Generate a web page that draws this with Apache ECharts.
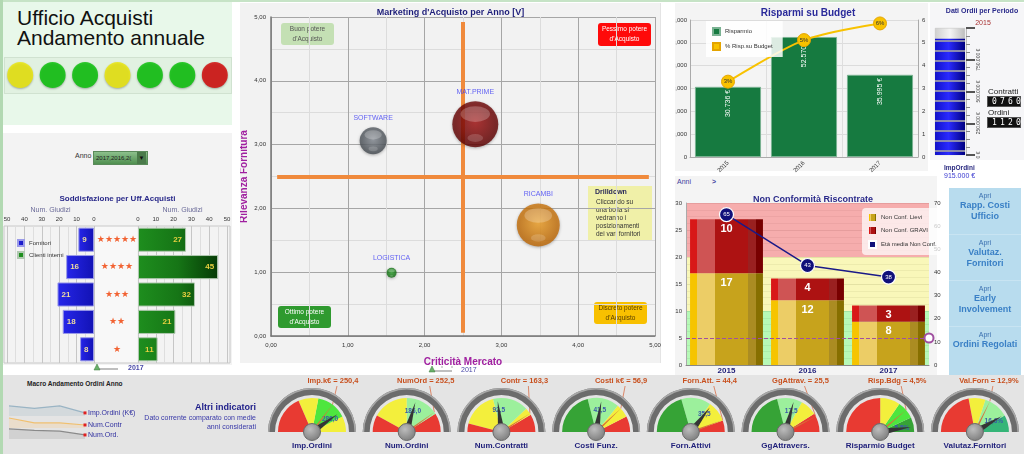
<!DOCTYPE html>
<html><head><meta charset="utf-8">
<script src="https://cdn.jsdelivr.net/npm/echarts@6/dist/echarts.min.js"></script>
<style>
html,body{margin:0;padding:0;}
body{width:1024px;height:454px;overflow:hidden;position:relative;background:#fff;font-family:'Liberation Sans',Arial,sans-serif;}
.a{position:absolute;}
.t{position:absolute;white-space:nowrap;}
.cnt{position:absolute;height:9px;width:32px;background:#111;border:1px solid #555;color:#fff;font-size:8px;line-height:9px;letter-spacing:3.2px;text-indent:4px;font-family:'DejaVu Sans Mono',monospace;}
</style></head><body>
<div class="a" style="left:0;top:0;width:1024px;height:2px;background:#c6e3c6"></div>
<div class="a" style="left:0;top:0;width:3px;height:454px;background:#b2d9b2"></div>
<div class="a" style="left:3px;top:2px;width:229px;height:123px;background:#e8f8ea"></div>
<div class="a" style="left:4px;top:57px;width:226px;height:35px;background:#e1f1e1;border:1px solid #d0e2d0"></div>
<div class="t" style="left:17px;top:8px;font-size:21px;line-height:20px;color:#111">Ufficio Acquisti<br>Andamento annuale</div>
<div id="semafori" class="a" style="left:4px;top:57px;width:227px;height:36px"></div>

<div class="a" style="left:3px;top:133px;width:229px;height:232px;background:#f3f3f3"></div>
<div class="t" style="left:75px;top:152px;font-size:7px;color:#333">Anno</div>
<div class="t" style="left:93px;top:151px;width:53px;height:12px;background:linear-gradient(#8cc08c,#4f8f4f);border:1px solid #5a8a5a;font-size:6px;line-height:12px;color:#222;overflow:hidden"><span id="annoSel" style="padding-left:2px"></span><span style="position:absolute;right:1px;top:0;width:9px;text-align:center;background:#4a7a4a;color:#111;font-size:6px">&#9660;</span></div>
<div id="soddisfazione" class="a" style="left:0;top:130px;width:235px;height:245px"></div>

<div class="a" style="left:240px;top:3px;width:420px;height:360px;background:#f2f2f2;border-right:1px solid #e4e4e4"></div>
<div id="bolle" class="a" style="left:240px;top:0;width:421px;height:378px"></div>

<div class="a" style="left:675px;top:3px;width:253px;height:168px;background:#f4f4f4"></div>
<div id="risparmi" class="a" style="left:675px;top:0;width:255px;height:175px"></div>

<div class="a" style="left:930px;top:3px;width:94px;height:157px;background:#f6f6f8"></div>
<div id="ordini" class="a" style="left:930px;top:0;width:94px;height:160px"></div>
<div class="t" style="left:988px;top:87px;font-size:8px;color:#222">Contratti</div>
<div class="cnt" id="boxContratti" style="left:987px;top:96px"></div>
<div class="t" style="left:988px;top:108px;font-size:8px;color:#222">Ordini</div>
<div class="cnt" id="boxOrdini" style="left:987px;top:117px"></div>

<div class="a" style="left:675px;top:176px;width:262px;height:199px;background:#f4f4f4"></div>
<div class="t" style="left:677px;top:178px;font-size:7px;color:#4040a0">Anni</div>
<div class="t" style="left:712px;top:178px;font-size:7px;color:#4040a0;font-weight:bold">&gt;</div>
<div id="nonconf" class="a" style="left:675px;top:175px;width:270px;height:200px"></div>
<div class="t" style="left:944px;top:164px;font-size:6.5px;font-weight:bold;color:#2a2a80">ImpOrdini</div>
<div class="t" id="impOrdTxt" style="left:944px;top:172px;font-size:7px;color:#3a3ad0"></div>

<div class="a" style="left:949px;top:188px;width:72px;height:187px;background:#b8dcee"></div>
<div id="bottoni" class="a" style="left:949px;top:188px;width:72px;height:187px;text-align:center;color:#3a7cc4"></div>

<div class="a" style="left:3px;top:375px;width:1021px;height:79px;background:#e4e4e4"></div>
<div class="t" style="left:27px;top:380px;font-size:6.5px;font-weight:bold;color:#222">Macro Andamento Ordini Anno</div>
<div id="spark" class="a" style="left:3px;top:375px;width:160px;height:79px"></div>
<div class="t" style="right:768px;top:403px;text-align:right;color:#20208a;line-height:9px">
<div style="font-size:9px;font-weight:bold;margin-bottom:1px">Altri indicatori</div>
<div style="font-size:7px;color:#3838a8">Dato corrente comparato con medie</div>
<div style="font-size:7px;color:#3838a8">anni considerati</div></div>
<div id="gauges" class="a" style="left:240px;top:375px;width:784px;height:79px"></div>

<script>
// ---------------- DATA ----------------
const semaforiStato = ['giallo','verde','verde','giallo','verde','verde','rosso'];
const annoSelezione = '2017,2016,2(';
const stelle = ['★★★★★','★★★★','★★★','★★','★'];
const fornitori = [9,16,21,18,8];
const clientiInterni = [27,45,32,21,11];
const aree = ['SOFTWARE','MAT.PRIME','RICAMBI','LOGISTICA'];
const criticita = [1.33,2.66,3.48,1.57];
const rilevanza = [3.06,3.32,1.74,0.99];
const dimensione = [27,46,43,10];
const anniBudget = ['2015','2016','2017'];
const risparmio = [30736,52570,35995];
const percRisp = [3.3,5.12,5.85];
const periodoOrdini = '2015';
const impOrdini = 915000;
const numContratti = 760;
const numOrdini = 1120;
const anniNC = ['2015','2016','2017'];
const ncLievi = [17,12,8];
const ncGravi = [10,4,3];
const etaMedia = [65,43,38];
const sogliaNC = 5;
const bottoni = [['Rapp. Costi','Ufficio'],['Valutaz.','Fornitori'],['Early','Involvement'],['Ordini Regolati']];
const sparkAnni = ['2014','2015','2016','2017'];
const sparkImp = [956,942,956,915];
const sparkContr = [860,790,790,760];
const sparkOrd = [1160,1150,1145,1120];
const gaugeNomi = ['Imp.Ordini','Num.Ordini','Num.Contratti','Costi Funz.','Forn.Attivi','GgAttravers.','Risparmio Budget','Valutaz.Fornitori'];
const gaugeEtichette = ['Imp.k€','NumOrd','Contr','Costi k€','Forn.Att.','GgAttrav.','Risp.Bdg','Val.Forn'];
const gaugeValori = [286.0,186.0,92.5,41.5,35.5,17.5,5.5,16.6];
const gaugeMedie = [250.4,252.5,163.3,56.9,44.4,25.5,4.5,12.9];
const gaugeMax = [355,315,200,75,50,30,5.8,20];
const gaugeUnita = ['','','','','','','%','%'];
const gaugeSoglie = [
  [[0.37,'R'],[0.56,'Y'],[0.85,'G'],[1,'Y']],
  [[0.16,'R'],[0.5,'Y'],[0.82,'L'],[1,'R']],
  [[0.08,'R'],[0.42,'Y'],[0.76,'L'],[0.83,'Y'],[1,'R']],
  [[0.42,'D'],[0.72,'L'],[0.85,'Y'],[1,'R']],
  [[0.41,'D'],[0.69,'L'],[0.89,'Y'],[1,'R']],
  [[0.42,'D'],[0.66,'L'],[0.82,'Y'],[1,'R']],
  [[0.5,'R'],[0.69,'Y'],[0.86,'G'],[1,'D']],
  [[0.44,'R'],[0.6,'Y'],[0.84,'L'],[1,'T']]
];

// ---------------- STYLE ----------------
const FONT = 'Liberation Sans';
const NAVY = '#1e1e7a';
const semColor = {giallo:'#eee800', verde:'#00c200', rosso:'#d40000'};
const bandColor = {R:'#e83a32', Y:'#f3ef3c', G:'#4ee63e', L:'#9cf09c', D:'#36a336', T:'#35b578'};
const numIt = v => String(v).replace(/\B(?=(\d{3})+(?!\d))/g,'.');
const dec = (v,d) => v.toFixed(d).replace('.',',');

document.getElementById('annoSel').textContent = annoSelezione;
document.getElementById('boxContratti').textContent = String(numContratti).padStart(4,'0');
document.getElementById('boxOrdini').textContent = String(numOrdini).padStart(4,'0');
document.getElementById('impOrdTxt').textContent = numIt(impOrdini) + ' €';
document.getElementById('bottoni').innerHTML = bottoni.map((b,i)=>
  '<div style="height:46px;'+(i?'border-top:1px solid #c8e4f2;':'')+'box-sizing:border-box;padding-top:3px">'+
  '<div style="font-size:7px;line-height:9px;color:#3a70b0">Apri</div>'+
  b.map(l=>'<div style="font-size:9px;line-height:11px;font-weight:bold;color:#3a80c6">'+l+'</div>').join('')+'</div>').join('');

// ---------------- SEMAFORI ----------------
echarts.init(document.getElementById('semafori')).setOption({
  animation:false,
  grid:{left:0,top:0,width:227,height:36,outerBoundsMode:'none'},
  xAxis:{type:'category',data:semaforiStato.map((s,i)=>'s'+i),show:false},
  yAxis:{type:'value',min:0,max:1,show:false},
  series:[{type:'scatter',symbolSize:26,data:semaforiStato.map(s=>({value:0.5,itemStyle:{color:semColor[s]}})),
    itemStyle:{shadowBlur:2,shadowColor:'rgba(0,0,0,0.35)',shadowOffsetY:1}}]
});

// ---------------- SODDISFAZIONE ----------------
const blueGrad = new echarts.graphic.LinearGradient(0,0,1,0,[{offset:0,color:'#2626ea'},{offset:1,color:'#1212b4'}]);
const greenGrad = new echarts.graphic.LinearGradient(138,0,227,0,[{offset:0,color:'#1e8e1e'},{offset:0.45,color:'#167516'},{offset:1,color:'#022e02'}],true);
function mkTop(inv, gi){
  return {gridIndex:gi,type:'value',min:0,max:50,interval:10,inverse:inv,position:'top',
    name:'Num. Giudizi',nameLocation:'middle',nameGap:12,nameMoveOverlap:false,
    nameTextStyle:{color:'#6a6a98',fontSize:7,fontFamily:FONT},
    axisLabel:{fontSize:6,color:'#333',margin:4,fontFamily:FONT},axisTick:{show:false},axisLine:{show:false},
    splitLine:{lineStyle:{color:'#c6c6c6'}},minorTick:{show:false,splitNumber:2},minorSplitLine:{show:true,lineStyle:{color:'#dedede'}}};
}
echarts.init(document.getElementById('soddisfazione')).setOption({
  animation:false,
  title:{text:'Soddisfazione per Uff.Acquisti',left:'center',top:60,textStyle:{fontSize:8,fontWeight:'bold',color:'#2a2a8a',fontFamily:FONT}},
  legend:{data:['Fornitori','Clienti interni'],orient:'vertical',left:12,top:104,icon:'rect',itemWidth:6,itemHeight:6,itemGap:4,
    textStyle:{fontSize:6,color:'#333',fontFamily:FONT}},
  grid:[{left:7,width:87,top:96,height:137,outerBoundsMode:'none'},{left:138,width:89,top:96,height:137,outerBoundsMode:'none'}],
  xAxis:[mkTop(true,0),mkTop(false,1)],
  yAxis:[{gridIndex:0,type:'category',data:stelle,inverse:true,axisLabel:{show:false},axisTick:{show:false},axisLine:{show:false}},
    {gridIndex:1,type:'category',data:stelle,inverse:true,axisTick:{show:false},axisLine:{show:false},
     axisLabel:{align:'center',margin:21,color:'#f26232',fontSize:9,fontFamily:'DejaVu Sans'}}],
  graphic:[
    {type:'rect',shape:{x:4,y:96,width:226,height:137},style:{fill:'none',stroke:'#c8c8c8'},silent:true},
    {type:'rect',shape:{x:95,y:96,width:42,height:137},style:{fill:'#f8f8f8'},silent:true,z:-1},
    {type:'line',shape:{x1:97,y1:239,x2:118,y2:239},style:{stroke:'#aaa',lineWidth:1.5}},
    {type:'polygon',shape:{points:[[97,234],[94,240],[100,240]]},style:{fill:'#6ab06a',stroke:'#3a7a3a',lineWidth:0.5}},
    {type:'text',style:{text:'2017',x:128,y:235,fill:'#4848a8',font:'bold 7px '+FONT}}
  ],
  series:[
    {name:'Fornitori',type:'bar',xAxisIndex:0,yAxisIndex:0,data:fornitori,barWidth:'88%',
     itemStyle:{color:blueGrad,borderColor:'#9a9ae8',borderWidth:1},
     label:{show:true,position:'insideLeft',distance:4,color:'#efdca0',fontSize:8,fontWeight:'bold',fontFamily:FONT}},
    {name:'Clienti interni',type:'bar',xAxisIndex:1,yAxisIndex:1,data:clientiInterni,barWidth:'88%',
     itemStyle:{color:greenGrad,borderColor:'#b0c8b0',borderWidth:1},
     label:{show:true,position:'insideRight',distance:4,color:'#e8d040',fontSize:8,fontWeight:'bold',fontFamily:FONT}}
  ]
});

// ---------------- BOLLE ----------------
const bubbleCol = {'SOFTWARE':['#8a9098','#3e444a'],'MAT.PRIME':['#a81414','#560000'],'RICAMBI':['#f4a428','#b86000'],'LOGISTICA':['#34a834','#0a620a']};
const fmt2 = v => v.toFixed(2).replace('.',',');
const axBase = {type:'value',min:0,max:5,interval:1,nameMoveOverlap:false,
  axisLabel:{fontSize:6,color:'#333',formatter:fmt2,fontFamily:FONT},
  axisLine:{show:true,lineStyle:{color:'#777',width:1.5}},axisTick:{show:false},
  splitLine:{lineStyle:{color:'#a6a6a6'}},minorTick:{show:false,splitNumber:2},minorSplitLine:{show:true,lineStyle:{color:'#dcdcdc'}},
  nameLocation:'middle',nameTextStyle:{color:'#a020a0',fontSize:10,fontWeight:'bold',fontFamily:FONT}};
const bubbleData = aree.map((n,i)=>({name:n,value:[criticita[i],rilevanza[i],dimensione[i]]}));
const box = (x,y,w,h,fill,lines,col)=>({type:'group',x:x,y:y,children:[
  {type:'rect',shape:{x:0,y:0,width:w,height:h,r:3},style:{fill:fill}},
  {type:'text',style:{text:lines.join('\n'),x:w/2,y:h/2,align:'center',verticalAlign:'middle',fill:col,font:'6.5px '+FONT,lineHeight:10}}]});
echarts.init(document.getElementById('bolle')).setOption({
  animation:false,
  title:{text:"Marketing d'Acquisto per Anno [V]",left:'center',top:3,textStyle:{fontSize:9,fontWeight:'bold',color:NAVY,fontFamily:FONT}},
  grid:{left:31,top:17,width:384,height:319,outerBoundsMode:'none'},
  xAxis:Object.assign({},axBase,{name:'Criticità Mercato',nameGap:21,axisLabel:Object.assign({},axBase.axisLabel,{margin:6})}),
  yAxis:Object.assign({},axBase,{name:'Rilevanza Fornitura',nameGap:22,axisLabel:Object.assign({},axBase.axisLabel,{margin:5})}),
  graphic:[
    box(41,23,53,22,'#c4e0b4',['Buon potere',"d'Acquisto"],'#555'),
    box(358,23,53,23,'#ff0a0a',['Pessimo potere',"d'Acquisto"],'#fff'),
    box(38,306,53,22,'#2f9a2f',['Ottimo potere',"d'Acquisto"],'#fff'),
    box(354,302,53,22,'#f8c000',['Discreto potere',"d'Acquisto"],'#5a4000'),
    {type:'group',x:348,y:186,children:[
      {type:'rect',shape:{x:0,y:0,width:64,height:54},style:{fill:'#f0f0a8'}},
      {type:'text',style:{text:'Drilldown',x:7,y:3,fill:'#2a2a5a',font:'bold 7px '+FONT}},
      {type:'text',style:{text:'Cliccando su\nuna bolla si\nvedranno i\nposizionamenti\ndei vari fornitori',x:8,y:12,fill:'#333',font:'6.5px '+FONT,lineHeight:8}}]},
    {type:'line',shape:{x1:192,y1:371,x2:212,y2:371},style:{stroke:'#aaa',lineWidth:1.5}},
    {type:'line',shape:{x1:202,y1:366,x2:202,y2:368},style:{stroke:'#aaa'}},
    {type:'line',shape:{x1:212,y1:366,x2:212,y2:368},style:{stroke:'#aaa'}},
    {type:'polygon',shape:{points:[[192,366],[189,372],[195,372]]},style:{fill:'#6ab06a',stroke:'#3a7a3a',lineWidth:0.5}},
    {type:'text',style:{text:'2017',x:221,y:367,fill:'#4848a8',font:'7px '+FONT}}
  ],
  series:[
    {type:'line',data:[],z:1,markLine:{silent:true,z:1,symbol:['none','none'],label:{show:false},
      lineStyle:{color:'#f08a3c',width:4,type:'solid'},
      data:[[{coord:[2.5,0.05]},{coord:[2.5,4.92]}],[{coord:[0.08,2.5]},{coord:[4.92,2.5]}]]}},
    {type:'scatter',z:3,data:bubbleData,symbolSize:d=>d[2],
      itemStyle:{color:p=>new echarts.graphic.RadialGradient(0.5,0.45,0.6,[{offset:0,color:bubbleCol[p.name][0]},{offset:1,color:bubbleCol[p.name][1]}]),
        shadowBlur:3,shadowColor:'rgba(0,0,0,0.35)',shadowOffsetY:1},
      label:{show:true,position:'top',distance:6,formatter:'{b}',color:'#3c3cf4',fontSize:7,fontFamily:FONT}},
    {type:'scatter',z:4,silent:true,data:bubbleData,symbolSize:d=>[d[2]*0.64,d[2]*0.34],symbolOffset:p=>[0,-p[2]*0.22],
      itemStyle:{color:'rgba(255,255,255,0.28)'}},
    {type:'scatter',z:4,silent:true,data:bubbleData,symbolSize:d=>[d[2]*0.34,d[2]*0.17],symbolOffset:p=>[0,p[2]*0.3],
      itemStyle:{color:'rgba(255,255,255,0.2)'}}
  ]
});

// ---------------- RISPARMI ----------------
echarts.init(document.getElementById('risparmi')).setOption({
  animation:false,
  title:{text:'Risparmi su Budget',left:128,textAlign:'center',top:3,textStyle:{fontSize:10,fontWeight:'bold',color:'#2a2a9a',fontFamily:FONT}},
  legend:{data:['Risparmio','% Risp.su Budget'],orient:'vertical',left:31,top:21,icon:'rect',itemWidth:7,itemHeight:7,itemGap:6,
    padding:[6,10,6,6],backgroundColor:'rgba(255,255,255,0.85)',textStyle:{fontSize:6,color:'#333',fontFamily:FONT}},
  grid:{left:15,top:20,width:228,height:137,outerBoundsMode:'none'},
  xAxis:{type:'category',data:anniBudget,axisLabel:{rotate:45,fontSize:6,color:'#333',margin:5,fontFamily:FONT},
    axisTick:{show:false},axisLine:{lineStyle:{color:'#aaa'}},splitLine:{show:true,lineStyle:{color:'#dedede'}}},
  yAxis:[{type:'value',min:0,max:60000,interval:10000,axisLabel:{fontSize:6,color:'#333',margin:3,fontFamily:FONT,
      formatter:v=>String(v).replace(/\B(?=(\d{3})+(?!\d))/g,',')},
     axisLine:{show:true,lineStyle:{color:'#aaa'}},splitLine:{lineStyle:{color:'#dcdcdc'}}},
    {type:'value',min:0,max:6,interval:1,axisLabel:{fontSize:6,color:'#333',margin:4,fontFamily:FONT},
     axisLine:{show:true,lineStyle:{color:'#aaa'}},splitLine:{show:false}}],
  series:[
    {name:'Risparmio',type:'bar',data:risparmio,barWidth:'87%',itemStyle:{color:'#167a40',borderColor:'#7ab292',borderWidth:1},
     label:{show:true,rotate:90,position:'insideTop',align:'right',verticalAlign:'middle',distance:3,color:'#fff',fontSize:7,fontFamily:FONT,
       formatter:p=>numIt(p.value)+' €'}},
    {name:'% Risp.su Budget',type:'line',yAxisIndex:1,data:percRisp,smooth:0.3,symbol:'circle',symbolSize:13,
     lineStyle:{color:'#f8c200',width:2},itemStyle:{color:'#f8c200',borderColor:'#e4a400',borderWidth:1},
     label:{show:true,position:'inside',fontSize:6,color:'#333',fontFamily:FONT,formatter:p=>Math.round(p.value)+'%'}}
  ]
});

// ---------------- DATI ORDINI ----------------
echarts.init(document.getElementById('ordini')).setOption({
  animation:false,
  title:[{text:'Dati Ordii per Periodo',left:47,textAlign:'center',top:3,textStyle:{fontSize:7,fontWeight:'bold',color:'#2a2a8a',fontFamily:FONT}},
    {text:periodoOrdini,left:48,textAlign:'center',top:15,textStyle:{fontSize:7,fontWeight:'normal',color:'#a83232',fontFamily:FONT}}],
  grid:{left:5,top:28,width:30,height:127,outerBoundsMode:'none'},
  xAxis:{type:'category',data:['ImpOrdini'],show:false},
  yAxis:{type:'value',min:0,max:1000000,interval:250000,position:'right',offset:1,
    axisLine:{show:true,lineStyle:{color:'#bbb'}},axisTick:{show:true,length:9,lineStyle:{color:'#555',width:2}},
    minorTick:{show:true,splitNumber:4,length:4,lineStyle:{color:'#888'}},splitLine:{show:false},
    axisLabel:{rotate:90,fontSize:5,margin:10,color:'#444',fontFamily:FONT,showMaxLabel:false,
      formatter:v=>numIt(v)+' €'}},
  series:[
    {type:'bar',data:[1000000],barWidth:30,silent:true,barGap:'-100%',z:1,
     itemStyle:{color:new echarts.graphic.LinearGradient(0,0,1,0,[{offset:0,color:'#cfcfcf'},{offset:0.5,color:'#f4f4f4'},{offset:1,color:'#bdbdbd'}]),borderColor:'#bbb',borderWidth:0.5}},
    {type:'bar',data:[impOrdini],barWidth:30,z:3,
     itemStyle:{color:new echarts.graphic.LinearGradient(0,0,1,0,[{offset:0,color:'#1010c8'},{offset:0.45,color:'#2a2aff'},{offset:1,color:'#000080'}]),
       decal:{symbol:'rect',color:'rgba(150,150,170,0.9)',dashArrayX:[1,0],dashArrayY:[1.2,7.3],rotation:0,symbolSize:1}}}
  ]
});

// ---------------- NON CONFORMITA ----------------
const grad = c => new echarts.graphic.LinearGradient(0,0,1,0,[
  {offset:0,color:c[0]},{offset:0.09,color:c[0]},{offset:0.091,color:c[1]},{offset:0.34,color:c[1]},
  {offset:0.341,color:c[2]},{offset:0.8,color:c[2]},{offset:0.801,color:c[3]},{offset:0.9,color:c[3]},{offset:0.901,color:c[4]},{offset:1,color:c[4]}]);
echarts.init(document.getElementById('nonconf')).setOption({
  animation:false,
  title:{text:'Non Conformità Riscontrate',left:133,textAlign:'center',top:15,textStyle:{fontSize:9,fontWeight:'bold',color:'#2a2a8a',fontFamily:FONT}},
  legend:{data:['Non Conf. Lievi','Non Conf. GRAVI','Età media Non Conf.'],orient:'vertical',left:187,top:33,icon:'rect',
    itemWidth:7,itemHeight:7,itemGap:6,padding:[6,8,6,6],borderRadius:4,backgroundColor:'rgba(255,255,255,0.72)',
    textStyle:{fontSize:6,color:'#333',fontFamily:FONT}},
  grid:{left:11,top:28,width:243,height:162,outerBoundsMode:'none'},
  xAxis:{type:'category',data:anniNC,axisTick:{show:false},axisLine:{lineStyle:{color:'#888'}},
    axisLabel:{fontSize:8,fontWeight:'bold',color:'#1e1e78',margin:2,fontFamily:FONT}},
  yAxis:[{type:'value',min:0,max:30,interval:5,axisLabel:{fontSize:6,color:'#333',margin:4,fontFamily:FONT},
     axisLine:{show:true,lineStyle:{color:'#aaa'}},splitLine:{lineStyle:{color:'#8a8a8a'}},
     minorTick:{show:false,splitNumber:4},minorSplitLine:{show:true,lineStyle:{color:'#b8b8b8'}}},
    {type:'value',min:0,max:70,interval:10,axisLabel:{fontSize:6,color:'#333',margin:5,fontFamily:FONT},
     axisLine:{show:false},splitLine:{show:false}}],
  series:[
    {type:'line',data:[],z:0,silent:true,markArea:{silent:true,z:0,data:[
      [{yAxis:0,itemStyle:{color:'rgba(168,250,168,0.8)'}},{yAxis:10}],
      [{yAxis:10,itemStyle:{color:'rgba(250,248,170,0.8)'}},{yAxis:20}],
      [{yAxis:20,itemStyle:{color:'rgba(246,160,160,0.85)'}},{yAxis:30}]]}},
    {name:'Non Conf. Lievi',type:'bar',stack:'nc',data:ncLievi,barWidth:'90%',z:2,color:'#f6c400',
     itemStyle:{color:grad(['#f6c400','#eccd66','#c7a31c','#ab8c22','#876f00'])},
     label:{show:true,position:'insideTop',distance:4,color:'#fff',fontSize:11,fontWeight:'bold',fontFamily:FONT}},
    {name:'Non Conf. GRAVI',type:'bar',stack:'nc',data:ncGravi,barWidth:'90%',z:2,color:'#d81818',
     itemStyle:{color:grad(['#d81818','#cf5454','#ad1212','#9a2020','#780000'])},
     label:{show:true,position:'insideTop',distance:4,color:'#fff',fontSize:11,fontWeight:'bold',fontFamily:FONT}},
    {type:'line',data:[],z:5,silent:true,markLine:{silent:true,symbol:['none','emptyCircle'],symbolSize:9,label:{show:false},
      lineStyle:{type:'dashed',color:'#a050a0',width:1},data:[{yAxis:sogliaNC}]}},
    {name:'Età media Non Conf.',type:'line',yAxisIndex:1,data:etaMedia,z:6,color:'#10107a',symbol:'circle',symbolSize:14,
     lineStyle:{color:'#1a1a88',width:1.5},itemStyle:{color:'#10107a',borderColor:'#fff',borderWidth:1.2},
     label:{show:true,position:'inside',fontSize:6,color:'#fff',fontFamily:FONT}}
  ]
});

// ---------------- SPARKLINES ----------------
const sparkDefs = [
  {name:'Imp.Ordini (K€)',data:sparkImp,min:897,max:967,top:29,line:'#9ab4c4',area:'rgba(160,184,198,0.35)'},
  {name:'Num.Contr',data:sparkContr,min:717,max:888,top:41,line:'#f0c070',area:'rgba(250,206,140,0.4)'},
  {name:'Num.Ord.',data:sparkOrd,min:1093,max:1173,top:52,line:'#8a8a8a',area:'rgba(140,140,140,0.3)'}
];
echarts.init(document.getElementById('spark')).setOption({
  animation:false,
  grid:sparkDefs.map(s=>({left:6,width:76,top:s.top,height:12,outerBoundsMode:'none'})),
  xAxis:sparkDefs.map((s,i)=>({gridIndex:i,type:'category',data:sparkAnni,boundaryGap:false,show:false})),
  yAxis:sparkDefs.map((s,i)=>({gridIndex:i,type:'value',min:s.min,max:s.max,show:false})),
  series:sparkDefs.map((s,i)=>({name:s.name,type:'line',xAxisIndex:i,yAxisIndex:i,data:s.data,
    lineStyle:{color:s.line,width:1.2},areaStyle:{color:s.area},
    symbol:'rect',showSymbol:true,itemStyle:{color:'#e02020'},
    symbolSize:(v,p)=>p.dataIndex===s.data.length-1?3:0,
    endLabel:{show:true,formatter:'{a}',color:'#3030a0',fontSize:7,distance:3,fontFamily:FONT}}))
});

// ---------------- GAUGES ----------------
const gcx = gaugeNomi.map((n,i)=>72+i*94.7);
const gcy = 57;
const labDx = [21,19,23,25,19,15,17,14];
const series = [], graphic = [];
gaugeNomi.forEach((nome,i)=>{
  const M = gaugeMax[i], v = gaugeValori[i], m = gaugeMedie[i], u = gaugeUnita[i];
  const base = {type:'gauge',center:[gcx[i],gcy],startAngle:180,endAngle:0,min:0,max:M,
    axisTick:{show:false},splitLine:{show:false},axisLabel:{show:false}};
  series.push(Object.assign({},base,{radius:44,axisLine:{lineStyle:{width:7,color:[[1,'#6c6c6c']]}},
    pointer:{show:false},anchor:{show:false},title:{show:false},detail:{show:false},data:[{value:0}],silent:true}));
  series.push(Object.assign({},base,{radius:44,axisLine:{lineStyle:{width:1.5,color:[[1,'#a8a8a8']]}},
    pointer:{show:false},anchor:{show:false},title:{show:false},detail:{show:false},data:[{value:0}],silent:true}));
  const a = Math.PI*(1-v/M);
  series.push(Object.assign({},base,{radius:34,
    axisLine:{lineStyle:{width:29,color:gaugeSoglie[i].map(s=>[s[0],bandColor[s[1]]])}},
    pointer:{length:31,width:3.5,itemStyle:{color:'#353535'}},
    anchor:{show:true,showAbove:true,size:17,itemStyle:{color:new echarts.graphic.RadialGradient(0.4,0.35,0.7,[{offset:0,color:'#bdbdbd'},{offset:1,color:'#7a7a7a'}]),borderColor:'#6a6a6a',borderWidth:1}},
    title:{offsetCenter:[0,14],fontSize:8,fontWeight:'bold',color:'#1f1f7a',fontFamily:FONT},
    detail:{offsetCenter:[Math.cos(a)*22,-Math.sin(a)*22],fontSize:6.5,color:'#3a5aa8',fontFamily:FONT,formatter:()=>dec(v,1)+u},
    data:[{value:v,name:nome}]}));
  series.push(Object.assign({},base,{radius:34,axisLine:{show:false},
    pointer:{length:'100%',width:1,itemStyle:{color:'#d8703a'}},anchor:{show:false},title:{show:false},
    detail:{offsetCenter:[labDx[i],-51],fontSize:7.5,fontWeight:'bold',color:'#c8501e',fontFamily:FONT,
      formatter:()=>gaugeEtichette[i]+' = '+dec(m,1)+u},
    data:[{value:m}]}));
  const b = Math.PI*(1-m/M);
  graphic.push({type:'line',silent:true,shape:{x1:gcx[i]+Math.cos(b)*34,y1:gcy-Math.sin(b)*34,x2:gcx[i]+labDx[i]+4,y2:11},
    style:{stroke:'#d8704a',lineWidth:0.8}});
});
echarts.init(document.getElementById('gauges')).setOption({animation:false,series:series,graphic:graphic});
</script>
</body></html>
